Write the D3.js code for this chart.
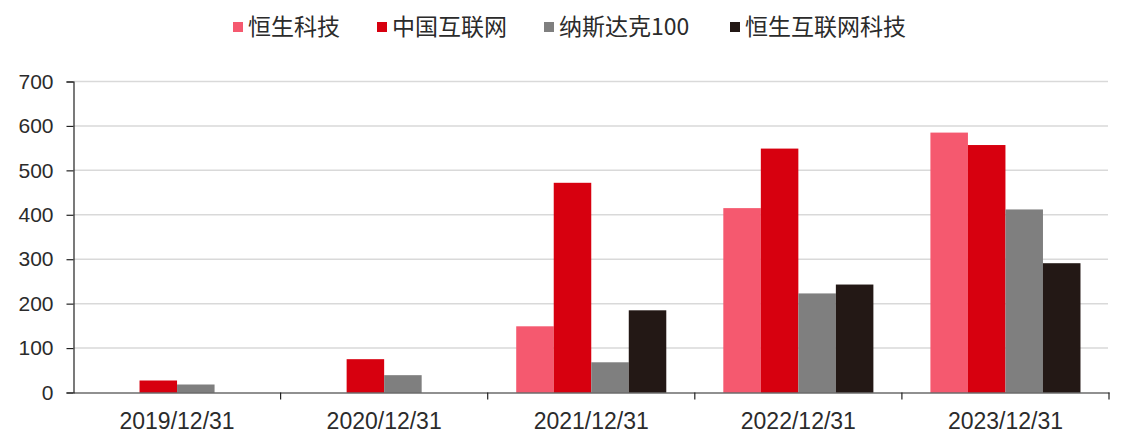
<!DOCTYPE html>
<html>
<head>
<meta charset="utf-8">
<script src="https://cdn.jsdelivr.net/npm/d3@7/dist/d3.min.js"></script>
<style>
  html, body { margin: 0; padding: 0; background: #fff; }
  svg { display: block; }
  text { font-family: "Liberation Sans", Arial, "Noto Sans CJK SC", sans-serif; fill: #2b2b2b; }
</style>
</head>
<body>
<svg id="chart" width="1122" height="444"></svg>
<script>
const categories = ["2019/12/31", "2020/12/31", "2021/12/31", "2022/12/31", "2023/12/31"];
const seriesNames = ["恒生科技", "中国互联网", "纳斯达克100", "恒生互联网科技"];
const hsTech = [null, null, 149, 415, 585];
const chinaInternet = [27, 75, 472, 549, 557];
const nasdaq100 = [18, 39, 68, 223, 412];
const hsInternetTech = [null, null, 185, 243, 291];
const yTicks = [0, 100, 200, 300, 400, 500, 600, 700];
const colors = ["#F5596F", "#D7000F", "#7F7F7F", "#231815"];

const seriesValues = [hsTech, chinaInternet, nasdaq100, hsInternetTech];
const svg = d3.select("#chart");

const plotLeft = 73.5, plotRight = 1109, plotTop = 81.5, plotBottom = 392.5;

const x0 = d3.scaleBand().domain(categories).range([plotLeft, plotRight]).padding(0);
const x1 = d3.scaleBand().domain(seriesNames).range([0, x0.bandwidth()]).paddingInner(0).paddingOuter(0.76);
const y = d3.scaleLinear().domain([0, 700]).range([plotBottom, plotTop]);

// gridlines
svg.append("g")
  .selectAll("line")
  .data(yTicks.filter(d => d > 0))
  .join("line")
  .attr("x1", plotLeft).attr("x2", plotRight - 1)
  .attr("y1", d => y(d)).attr("y2", d => y(d))
  .attr("stroke", "#d9d9d9").attr("stroke-width", 1.5);

// bars
const groups = svg.append("g")
  .selectAll("g")
  .data(categories)
  .join("g")
  .attr("transform", d => `translate(${x0(d)},0)`);

groups.selectAll("rect")
  .data((c, i) => seriesNames.map((s, k) => ({ s, k, v: seriesValues[k][i] })).filter(d => d.v != null))
  .join("rect")
  .attr("x", d => x1(d.s))
  .attr("width", x1.bandwidth())
  .attr("y", d => y(d.v))
  .attr("height", d => y(0) - y(d.v))
  .attr("fill", d => colors[d.k]);

// y axis
const yAxis = svg.append("g")
  .attr("transform", `translate(${plotLeft},0)`)
  .call(d3.axisLeft(y).tickValues(yTicks).tickSize(7).tickPadding(13));
yAxis.select(".domain").attr("stroke", "#222").attr("stroke-width", 1.2);
yAxis.selectAll(".tick line").attr("stroke", "#222").attr("stroke-width", 1.2);
yAxis.selectAll(".tick text").attr("font-size", 21).attr("fill", "#2b2b2b")
  .style("font-family", '"Liberation Sans", Arial, sans-serif');

// x axis
const xAxis = svg.append("g")
  .attr("transform", `translate(0,${plotBottom})`)
  .call(d3.axisBottom(x0).tickSize(0).tickPadding(20));
xAxis.select(".domain").attr("stroke", "#222").attr("stroke-width", 1.2);
xAxis.selectAll(".tick text").attr("font-size", 23).attr("fill", "#2b2b2b")
  .style("font-family", '"Liberation Sans", Arial, sans-serif');
// category boundary ticks
svg.append("g")
  .selectAll("line")
  .data(categories.map(c => x0(c)).concat([plotRight]).slice(1))
  .join("line")
  .attr("x1", d => d).attr("x2", d => d)
  .attr("y1", plotBottom).attr("y2", plotBottom + 7)
  .attr("stroke", "#222").attr("stroke-width", 1.2);

// legend
const legendX = [233, 377, 544, 730];
const legend = svg.append("g")
  .selectAll("g")
  .data(seriesNames)
  .join("g")
  .attr("transform", (d, i) => `translate(${legendX[i]},0)`);
legend.append("rect")
  .attr("x", 0).attr("y", 22).attr("width", 10).attr("height", 10)
  .attr("fill", (d, i) => colors[i]);
legend.append("text")
  .attr("x", 15).attr("y", 35)
  .attr("font-size", 23)
  .style("font-family", '"Noto Sans CJK SC", "Liberation Sans", sans-serif')
  .attr("fill", "#333")
  .text(d => d);
</script>
</body>
</html>
